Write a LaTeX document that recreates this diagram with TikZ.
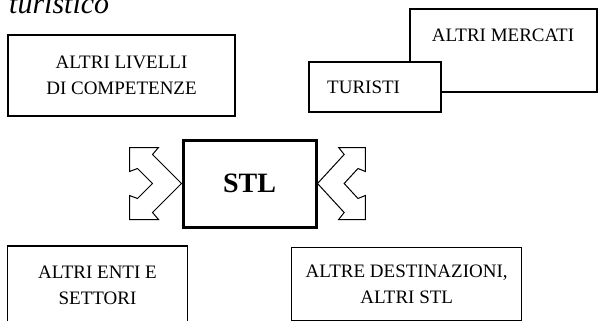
\documentclass[tikz,border=0pt]{standalone}
\usepackage{fontspec}
\setmainfont{Liberation Serif}
\begin{document}
\begin{tikzpicture}[x=1pt,y=-1pt,
  box/.style={draw, line width=1.2pt, rectangle, inner sep=0pt, align=center,
              font=\fontsize{19}{26}\selectfont},
  lbl/.style={inner sep=0pt, font=\fontsize{19}{26}\selectfont},
  chev/.style={draw, line width=1pt, line join=miter, fill=white}]
\clip (0,0) rectangle (600,321);

% heading, partly cut off at the top edge
\node[anchor=base west, inner sep=0pt, font=\itshape\fontsize{30}{36}\selectfont] (title) at (9,14) {turistico};

% upper boxes
\node[box, minimum width=227pt, minimum height=81pt] (comp) at (121.5,75.5) {ALTRI LIVELLI\\DI COMPETENZE};
\node[box, minimum width=187pt, minimum height=83pt] (mercati) at (503.5,50.5) {};
\node[lbl, anchor=base] (mercatilbl) at (503,41.7) {ALTRI MERCATI};
\node[box, fill=white, minimum width=132pt, minimum height=50pt] (turisti) at (375,87) {};
\node[lbl, anchor=base west] (turistilbl) at (327,94) {TURISTI};

% central box
\node[box, line width=3pt, minimum width=133pt, minimum height=87pt,
      font=\bfseries\fontsize{28}{32}\selectfont] (stl) at (249.5,183.5) {STL};

% notched double chevrons on both sides of the central box
\coordinate (ltip) at (stl.west);
\coordinate (rtip) at (stl.east);
\draw[chev, shift={(ltip)}] (-52,-36) -- (-23,-36) -- (-29,-29) -- (0,0) -- (-29,29) -- (-23,36)
  -- (-52,36) -- (-52,12) -- (-44,15) -- (-29,0) -- (-44,-15) -- (-52,-12) -- cycle;
\draw[chev, shift={(rtip)}, xscale=-0.92] (-52,-36) -- (-23,-36) -- (-29,-29) -- (0,0) -- (-29,29) -- (-23,36)
  -- (-52,36) -- (-52,12) -- (-44,15) -- (-29,0) -- (-44,-15) -- (-52,-12) -- cycle;

% lower boxes
\node[box, minimum width=180pt, minimum height=79pt] (enti) at (97.5,285.5) {ALTRI ENTI E\\SETTORI};
\node[box, minimum width=230pt, minimum height=72.5pt] (dest) at (406.7,284) {ALTRE DESTINAZIONI,\\ALTRI STL};
\end{tikzpicture}
\end{document}
